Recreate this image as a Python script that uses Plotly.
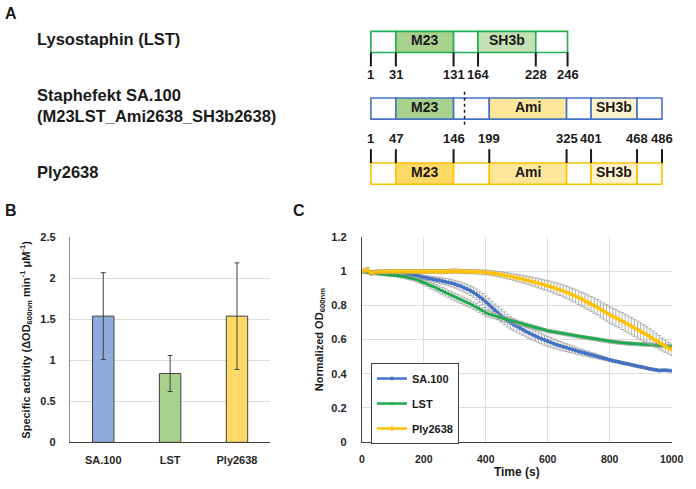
import plotly.graph_objects as go

W, H = 696, 489
FONT = "Liberation Sans, Arial, sans-serif"

# ---------------- Panel A data (domain architecture) ----------------
PROTEIN_NAMES = ["Lysostaphin (LST)", "Staphefekt SA.100<br>(M23LST_Ami2638_SH3b2638)", "Ply2638"]
LST_BOUNDS = [1, 31, 131, 164, 228, 246]
LST_DOMAINS = [None, "M23", None, "SH3b", None]
PLY_BOUNDS = [1, 47, 146, 199, 325, 401, 468, 486]
PLY_DOMAINS = [None, "M23", None, "Ami", None, "SH3b", None]
SA_DOMAINS = [None, "M23", None, "Ami", None, "SH3b", None]

# ---------------- Panel B data ----------------
B_CATS = ["SA.100", "LST", "Ply2638"]
B_VALUES = [1.54, 0.84, 1.54]
B_ERRORS = [0.53, 0.22, 0.65]

# ---------------- Panel C data ----------------
C_TIME = list(range(0, 1001, 10))
SA100 = [1.000, 0.998, 0.997, 0.996, 0.995, 0.995, 0.994, 0.993, 0.992, 0.991, 0.990,
         0.989, 0.988, 0.986, 0.985, 0.983, 0.981, 0.978, 0.975, 0.970, 0.965,
         0.962, 0.959, 0.955, 0.952, 0.948, 0.944, 0.940, 0.936, 0.931, 0.926,
         0.920, 0.913, 0.905, 0.897, 0.888, 0.878, 0.866, 0.852, 0.838, 0.822,
         0.806, 0.789, 0.772, 0.756, 0.740, 0.725, 0.711, 0.698, 0.688, 0.678,
         0.668, 0.658, 0.648, 0.639, 0.630, 0.621, 0.613, 0.605, 0.597, 0.590,
         0.583, 0.576, 0.570, 0.564, 0.558, 0.553, 0.547, 0.542, 0.536, 0.530,
         0.526, 0.521, 0.516, 0.511, 0.506, 0.501, 0.496, 0.491, 0.486, 0.480,
         0.476, 0.472, 0.468, 0.464, 0.460, 0.456, 0.452, 0.448, 0.444, 0.440,
         0.436, 0.432, 0.428, 0.425, 0.421, 0.419, 0.420, 0.420, 0.418, 0.417]
LST = [1.000, 0.995, 0.993, 0.990, 0.988, 0.987, 0.985, 0.984, 0.982, 0.981, 0.980,
       0.978, 0.975, 0.972, 0.969, 0.965, 0.961, 0.956, 0.950, 0.943, 0.936,
       0.928, 0.920, 0.912, 0.904, 0.895, 0.886, 0.877, 0.868, 0.859, 0.850,
       0.842, 0.834, 0.826, 0.818, 0.810, 0.800, 0.790, 0.780, 0.768, 0.757,
       0.750, 0.744, 0.739, 0.733, 0.727, 0.721, 0.716, 0.711, 0.705, 0.700,
       0.695, 0.690, 0.685, 0.680, 0.675, 0.670, 0.665, 0.661, 0.656, 0.651,
       0.648, 0.645, 0.642, 0.639, 0.636, 0.632, 0.629, 0.625, 0.621, 0.618,
       0.615, 0.612, 0.610, 0.607, 0.604, 0.601, 0.598, 0.595, 0.592, 0.589,
       0.587, 0.585, 0.583, 0.581, 0.579, 0.577, 0.576, 0.575, 0.574, 0.573,
       0.572, 0.571, 0.570, 0.569, 0.568, 0.566, 0.565, 0.564, 0.562, 0.560]
PLY = [1.000, 1.005, 1.010, 0.990, 0.995, 0.998, 0.998, 0.999, 0.999, 1.000, 1.000,
       1.000, 1.000, 1.000, 1.000, 1.000, 1.000, 1.000, 1.000, 1.000, 1.000,
       1.000, 1.000, 1.000, 1.000, 1.000, 1.000, 1.000, 1.000, 1.002, 1.003,
       1.002, 1.000, 1.000, 1.000, 0.999, 0.999, 0.998, 0.997, 0.996, 0.995,
       0.993, 0.991, 0.988, 0.985, 0.982, 0.978, 0.975, 0.971, 0.967, 0.963,
       0.959, 0.955, 0.951, 0.946, 0.941, 0.936, 0.931, 0.926, 0.921, 0.917,
       0.911, 0.905, 0.899, 0.893, 0.886, 0.879, 0.871, 0.863, 0.855, 0.846,
       0.837, 0.828, 0.819, 0.810, 0.800, 0.790, 0.779, 0.768, 0.757, 0.745,
       0.736, 0.727, 0.718, 0.709, 0.699, 0.689, 0.679, 0.669, 0.659, 0.648,
       0.638, 0.628, 0.617, 0.606, 0.595, 0.584, 0.572, 0.561, 0.550, 0.541]
SA100_ERR = [0.004, 0.006, 0.006, 0.006, 0.007, 0.007, 0.007, 0.008, 0.008, 0.008, 0.008,
             0.009, 0.009, 0.010, 0.010, 0.011, 0.011, 0.012, 0.012, 0.013, 0.013,
             0.014, 0.014, 0.015, 0.016, 0.017, 0.018, 0.019, 0.020, 0.021, 0.022,
             0.023, 0.025, 0.026, 0.027, 0.028, 0.030, 0.031, 0.032, 0.033, 0.034,
             0.035, 0.036, 0.037, 0.038, 0.038, 0.038, 0.037, 0.036, 0.035, 0.034,
             0.034, 0.033, 0.033, 0.032, 0.032, 0.031, 0.031, 0.030, 0.030, 0.029,
             0.028, 0.027, 0.026, 0.025, 0.024, 0.023, 0.022, 0.021, 0.020, 0.019,
             0.018, 0.017, 0.016, 0.015, 0.014, 0.013, 0.012, 0.011, 0.010, 0.009,
             0.008, 0.008, 0.008, 0.008, 0.008, 0.008, 0.008, 0.008, 0.008, 0.008,
             0.007, 0.007, 0.007, 0.007, 0.007, 0.007, 0.007, 0.007, 0.007, 0.007]
LST_ERR = [0.004, 0.006, 0.006, 0.007, 0.007, 0.007, 0.008, 0.008, 0.008, 0.009, 0.009,
           0.009, 0.010, 0.010, 0.011, 0.011, 0.012, 0.012, 0.013, 0.014, 0.015,
           0.016, 0.017, 0.018, 0.019, 0.020, 0.020, 0.021, 0.021, 0.022, 0.022,
           0.022, 0.022, 0.022, 0.022, 0.022, 0.021, 0.021, 0.020, 0.020, 0.019,
           0.018, 0.018, 0.017, 0.017, 0.016, 0.016, 0.015, 0.015, 0.014, 0.014,
           0.013, 0.013, 0.012, 0.012, 0.012, 0.011, 0.011, 0.011, 0.010, 0.010,
           0.010, 0.010, 0.010, 0.010, 0.010, 0.010, 0.010, 0.010, 0.010, 0.010,
           0.010, 0.010, 0.010, 0.010, 0.010, 0.010, 0.010, 0.010, 0.010, 0.010,
           0.010, 0.010, 0.010, 0.010, 0.010, 0.010, 0.010, 0.010, 0.010, 0.010,
           0.010, 0.010, 0.010, 0.010, 0.010, 0.010, 0.010, 0.010, 0.010, 0.010]
PLY_ERR = [0.010, 0.015, 0.015, 0.012, 0.012, 0.012, 0.012, 0.012, 0.012, 0.012, 0.012,
           0.012, 0.012, 0.012, 0.012, 0.012, 0.012, 0.012, 0.012, 0.012, 0.012,
           0.012, 0.012, 0.012, 0.012, 0.012, 0.012, 0.012, 0.012, 0.012, 0.012,
           0.012, 0.012, 0.012, 0.012, 0.012, 0.012, 0.012, 0.012, 0.013, 0.013,
           0.014, 0.014, 0.015, 0.015, 0.016, 0.017, 0.018, 0.018, 0.019, 0.020,
           0.021, 0.022, 0.023, 0.024, 0.025, 0.026, 0.027, 0.028, 0.029, 0.030,
           0.031, 0.032, 0.033, 0.034, 0.035, 0.036, 0.037, 0.038, 0.039, 0.040,
           0.041, 0.042, 0.043, 0.044, 0.045, 0.046, 0.047, 0.047, 0.048, 0.048,
           0.048, 0.049, 0.049, 0.050, 0.050, 0.050, 0.050, 0.050, 0.050, 0.050,
           0.049, 0.048, 0.046, 0.044, 0.042, 0.040, 0.038, 0.036, 0.035, 0.034]

# ---------------- styles ----------------
B_COLORS = ["#8FAADC", "#A9D18E", "#FFD966"]
C_SERIES = [("SA.100", SA100, SA100_ERR, "#4472C4", "circle"),
            ("LST", LST, LST_ERR, "#1FAA4E", "triangle-up"),
            ("Ply2638", PLY, PLY_ERR, "#FFC000", "cross")]


def px(x):
    return x / W


def py(y):
    return 1 - y / H


fig = go.Figure()

# ---------------- Panel B ----------------
fig.add_trace(go.Bar(
    x=B_CATS, y=B_VALUES, width=0.32,
    marker=dict(color=B_COLORS, line=dict(color="#404040", width=1)),
    error_y=dict(type="data", array=B_ERRORS, color="#404040", thickness=1, width=2.5),
    xaxis="x", yaxis="y", showlegend=False, hoverinfo="skip"))

# ---------------- Panel C ----------------
for i, (name, vals, errs, col, sym) in enumerate(C_SERIES):
    fig.add_trace(go.Scatter(
        x=C_TIME, y=vals, name=name, mode="lines+markers",
        line=dict(color=col, width=2.5),
        marker=dict(color=col, size=4, symbol=sym),
        error_y=dict(type="data", array=errs, color="#9E9E9E", thickness=0.8, width=2),
        xaxis="x2", yaxis="y2", legendgroup=name))

bold = dict(family=FONT, size=11, color="#262626", weight="bold")

fig.update_layout(
    width=W, height=H, margin=dict(l=0, r=0, t=0, b=0),
    paper_bgcolor="white", plot_bgcolor="white",
    font=dict(family=FONT, color="#1a1a1a"),
    xaxis=dict(domain=[px(68.3), px(273.3)], showline=True, linecolor="#404040", linewidth=1,
               ticks="", tickfont=bold, showgrid=False, fixedrange=True, ticklabelstandoff=7),
    yaxis=dict(domain=[py(447.3), py(237.3)], range=[0, 2.5], dtick=0.5, showline=True,
               linecolor="#8C8C8C", linewidth=1, gridcolor="#DDDDDD", zeroline=False,
               ticks="", tickfont=bold, ticklabelstandoff=11,
               title=dict(text="Specific activity (ΔOD<sub>600nm</sub> min<sup>-1</sup> μM<sup>-1</sup>)",
                          font=dict(family=FONT, size=11, color="#1a1a1a", weight="bold"), standoff=7)),
    xaxis2=dict(domain=[px(366.7), px(683.5)], range=[0, 1000.5], tickvals=[0, 200, 400, 600, 800, 1000],
                showline=True,
                linecolor="#404040", linewidth=1, gridcolor="#DDDDDD", zeroline=False, ticks="",
                tickfont=dict(family=FONT, size=10.5, color="#262626", weight="bold"),
                anchor="y2", ticklabelstandoff=8,
                title=dict(text="Time (s)", font=dict(family=FONT, size=12, color="#1a1a1a", weight="bold"),
                           standoff=3)),
    yaxis2=dict(domain=[py(446.7), py(237.3)], range=[0, 1.2], dtick=0.2, showline=True,
                linecolor="#404040", linewidth=1, gridcolor="#DDDDDD", zeroline=False, ticks="",
                tickfont=bold, anchor="x2", ticklabelstandoff=12,
                title=dict(text="Normalized OD<sub>600nm</sub>",
                           font=dict(family=FONT, size=11, color="#1a1a1a", weight="bold"), standoff=5)),
    legend=dict(x=px(376), y=py(366), xanchor="left", yanchor="top", bgcolor="white",
                bordercolor="#404040", borderwidth=1, traceorder="grouped", tracegroupgap=6,
                font=dict(family=FONT, size=11, color="#1a1a1a", weight="bold"),
                itemwidth=30),
)

# ---------------- Panel A drawing ----------------
shapes = []
annots = []

DOM_FILLS = {
    "LST": {"M23": "#A9D18E", "SH3b": "#C5E0B4"},
    "SA": {"M23": "#A9D18E", "Ami": "#FFE699", "SH3b": "#FFF2CC"},
    "PLY": {"M23": "#FFD966", "Ami": "#FFE699", "SH3b": "#FFF2CC"},
}
ROW_COLORS = {"LST": "#1FB04F", "SA": "#4472C4", "PLY": "#FFC000"}

# display (schematic, not to scale) positions of the boundaries
LST_X = [376, 401.5, 460.5, 485.5, 544.5, 577]
PLY_X = [376, 401.5, 460.5, 497, 576, 601, 648, 673.5]


def ann(x, y, text, font, xanchor="center", yanchor="middle", align="center"):
    annots.append(dict(x=px(x), y=py(y), xref="paper", yref="paper", text=text, showarrow=False,
                       xanchor=xanchor, yanchor=yanchor, align=align, font=font))


def draw_row(xs, doms, key, y0, y1):
    for i, d in enumerate(doms):
        fill = DOM_FILLS[key][d] if d else "white"
        shapes.append(dict(type="rect", xref="paper", yref="paper",
                           x0=px(xs[i]), x1=px(xs[i + 1]), y0=py(y1), y1=py(y0),
                           fillcolor=fill, line=dict(color=ROW_COLORS[key], width=1.6), layer="above"))
        if d:
            ann((xs[i] + xs[i + 1]) / 2, (y0 + y1) / 2 - 1.5, d,
                dict(family=FONT, size=14, color="#1a1a1a", weight="bold"))


draw_row(LST_X, LST_DOMAINS, "LST", 26, 47.7)
draw_row(PLY_X, SA_DOMAINS, "SA", 94.3, 116)
draw_row(PLY_X, PLY_DOMAINS, "PLY", 161, 182.7)

# dotted junction line in SA.100
shapes.append(dict(type="line", xref="paper", yref="paper", x0=px(471.7), x1=px(471.7),
                   y0=py(88), y1=py(121.7), line=dict(color="#1a1a1a", width=1.5, dash="dot"),
                   layer="above"))

num_font = dict(family=FONT, size=13, color="#1a1a1a", weight="bold")
for xv, res in zip(LST_X, LST_BOUNDS):
    shapes.append(dict(type="line", xref="paper", yref="paper", x0=px(xv), x1=px(xv),
                       y0=py(47.7), y1=py(62), line=dict(color="#1a1a1a", width=2)))
    ann(xv, 70.5, str(res), num_font)
for xv, res in zip(PLY_X, PLY_BOUNDS):
    shapes.append(dict(type="line", xref="paper", yref="paper", x0=px(xv), x1=px(xv),
                       y0=py(146.7), y1=py(161), line=dict(color="#1a1a1a", width=2)))
    ann(xv, 136, str(res), num_font)

name_font = dict(family=FONT, size=16.5, color="#1a1a1a", weight="bold")
for txt, yc in zip(PROTEIN_NAMES, [34, 102, 170]):
    ann(33, yc, txt, name_font, xanchor="left", align="left")

panel_font = dict(family=FONT, size=16, color="#1a1a1a", weight="bold")
for lab, xx, yy in [("A", 8.5, 8), ("B", 8.5, 210), ("C", 303, 210)]:
    ann(xx, yy, lab, panel_font)

fig.update_layout(shapes=shapes, annotations=annots)
fig.write_html("out.html", config={"displayModeBar": False},
               post_script="document.body.style.margin='0';")
